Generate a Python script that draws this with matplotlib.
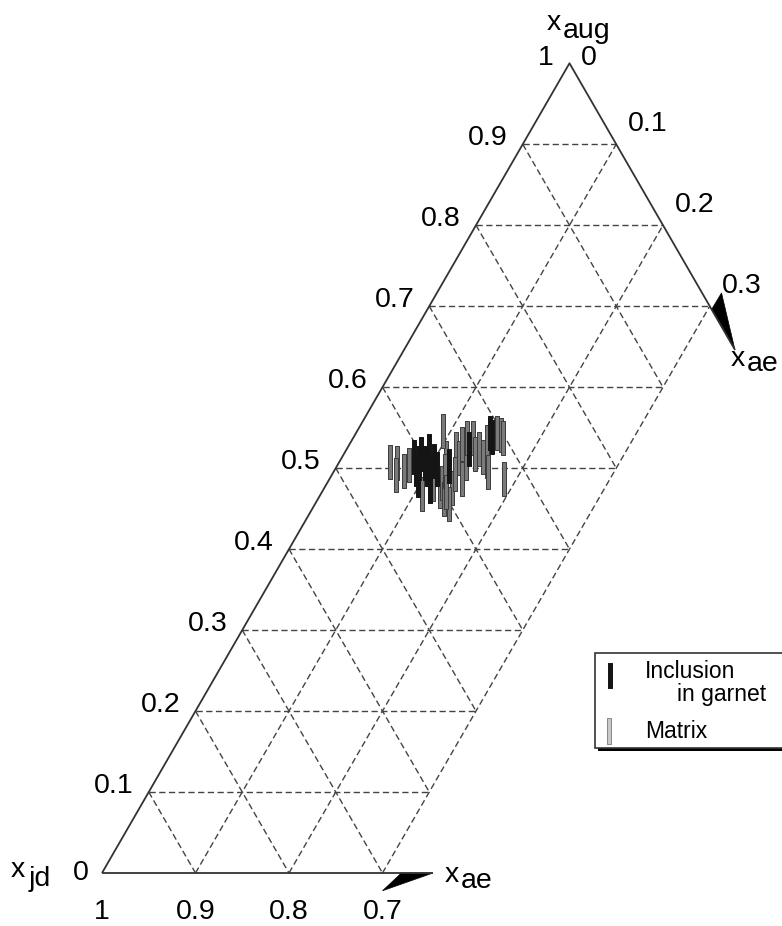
import numpy as np
import matplotlib.pyplot as plt
from matplotlib.path import Path
from matplotlib.patches import Polygon, Rectangle

# clinopyroxene compositions (mole fractions)
incl_ae = [0.086, 0.086, 0.092, 0.105, 0.101, 0.120, 0.131, 0.143, 0.148, 0.082,
           0.098, 0.109, 0.077, 0.095, 0.112, 0.089]
incl_aug = [0.499, 0.506, 0.506, 0.491, 0.509, 0.503, 0.524, 0.543, 0.539, 0.518,
            0.499, 0.499, 0.514, 0.485, 0.478, 0.521]

mat_ae = [0.054, 0.063, 0.075, 0.076, 0.125, 0.123, 0.112, 0.137, 0.117, 0.126,
          0.120, 0.136, 0.128, 0.140, 0.141, 0.150, 0.157, 0.151, 0.156, 0.187,
          0.092, 0.113, 0.131, 0.141, 0.122, 0.135, 0.143, 0.068, 0.118, 0.146,
          0.160, 0.133, 0.165, 0.108]
mat_aug = [0.507, 0.506, 0.497, 0.504, 0.472, 0.482, 0.512, 0.475, 0.524, 0.512,
           0.530, 0.506, 0.537, 0.518, 0.524, 0.514, 0.509, 0.543, 0.541, 0.486,
           0.546, 0.481, 0.493, 0.487, 0.537, 0.462, 0.456, 0.492, 0.497, 0.532,
           0.537, 0.470, 0.495, 0.468]

ticks = [0.1, 0.2, 0.3, 0.4, 0.5, 0.6, 0.7, 0.8, 0.9]
ae_max = 0.3

S3 = np.sqrt(3) / 2
PX = 935.0  # pixels per unit side


def tern(ae, aug):
    ae = np.asarray(ae, dtype=float)
    aug = np.asarray(aug, dtype=float)
    return ae + aug / 2, aug * S3


def px(v):
    return v / PX


plt.rcParams['font.family'] = ['Liberation Sans', 'DejaVu Sans']

fig = plt.figure(figsize=(7.82, 9.26), dpi=100)
ax = fig.add_axes([0, 0, 1, 1])
ax.set_xlim(-102 / PX, (782 - 102) / PX)
ax.set_ylim(-(926 - 873) / PX, 873 / PX)
ax.axis('off')

solid = dict(color='#333333', lw=1.3, solid_capstyle='butt')
dash = dict(color='#444444', lw=1.0, linestyle=(0, (4.5, 2.5)))

# dashed grid
for a in ticks:
    x, y = tern([0, min(ae_max, 1 - a)], [a, a])
    ax.plot(x, y, **dash)
for e in [0.1, 0.2, 0.3]:
    x, y = tern([e, e], [0, 1 - e])
    ax.plot(x, y, **dash)
for c in ticks:
    e_end = min(ae_max, 1 - c)
    x, y = tern([0, e_end], [1 - c, 1 - c - e_end])
    ax.plot(x, y, **dash)

# frame
x, y = tern([0, 0, ae_max], [0, 1, 1 - ae_max])
ax.plot(x, y, **solid)
x, y = tern([0, ae_max], [0, 0])
ax.plot(x, y, **solid)


# half arrow heads
def half_arrow(corner, d, n, back, out, notch_d, notch_n):
    corner = np.array(corner)
    d = np.array(d)
    n = np.array(n)
    tip = corner + 0.054 * d
    barb = corner - back * d + out * n
    notch = corner + notch_d * d + notch_n * n
    ax.plot(*zip(corner, tip), **solid)
    ax.add_patch(Polygon([tip, barb, notch, corner + (notch_d + 0.004) * d], closed=True,
                         fc='black', ec='black', lw=0.5))


bx, by = tern(ae_max, 0)
half_arrow((bx, by), (1, 0), (0, -1), 0.0, 0.019, 0.016, 0.004)
rx, ry = tern(ae_max, 1 - ae_max)
half_arrow((rx, ry), (0.5, -S3), (S3, 0.5), 0.006, 0.018, 0.004, 0.0)

# bar-shaped markers
bar = Path([(-0.05, -0.5), (0.05, -0.5), (0.05, 0.5), (-0.05, 0.5), (-0.05, -0.5)],
           [Path.MOVETO, Path.LINETO, Path.LINETO, Path.LINETO, Path.CLOSEPOLY])
mat_style = dict(marker=bar, markersize=24, mfc='#7a7a7a', mec='#3c3c3c', mew=0.7, linestyle='none')
inc_style = dict(marker=bar, markersize=24, mfc='#151515', mec='#151515', mew=0.7, linestyle='none')

x, y = tern(mat_ae, mat_aug)
ax.plot(x, y, **mat_style)
x, y = tern(incl_ae, incl_aug)
ax.plot(x, y, **inc_style)

fs = 20.5
# left edge labels (x_aug)
for a in ticks:
    x, y = tern(0, a)
    ax.text(x - px(15), y + px(6), f'{a:.1f}', ha='right', va='center', fontsize=fs)
# right edge labels (x_ae)
for e in [0.1, 0.2, ae_max]:
    x, y = tern(e, 1 - e)
    ax.text(x + px(12), y + px(20), f'{e:.1f}', ha='left', va='center', fontsize=fs)
# bottom labels (x_jd)
for e in [0.0, 0.1, 0.2, 0.3]:
    x, y = tern(e, 0)
    lab = '1' if e == 0 else f'{1 - e:.1f}'
    ax.text(x, y - px(39), lab, ha='center', va='center', fontsize=fs)

# apex
x, y = tern(0, 1)
ax.text(x - px(24), y + px(5), '1', ha='center', va='center', fontsize=fs)
ax.text(x + px(19), y + px(5), '0', ha='center', va='center', fontsize=fs)
ax.text(x - px(23), y + px(40), 'x', ha='left', va='center', fontsize=fs)
ax.text(x - px(7), y + px(32), 'aug', ha='left', va='center', fontsize=fs)

# bottom-left corner
x, y = tern(0, 0)
ax.text(x - px(21), y, '0', ha='center', va='center', fontsize=fs)
ax.text(x - px(91), y + px(3), 'x', ha='left', va='center', fontsize=fs)
ax.text(x - px(73), y - px(6), 'jd', ha='left', va='center', fontsize=fs)

# axis name at the arrows
ax.text(bx + px(62), by - px(2), 'x', ha='left', va='center', fontsize=fs)
ax.text(bx + px(78), by - px(8), 'ae', ha='left', va='center', fontsize=fs)
ax.text(rx + px(21), ry - px(53), 'x', ha='left', va='center', fontsize=fs)
ax.text(rx + px(37), ry - px(58), 'ae', ha='left', va='center', fontsize=fs)

# legend box
W, H = 782.0, 926.0
ax.add_patch(Rectangle((598 / W, 1 - 751 / H), 0.5, (751 - 656) / H, transform=ax.transAxes,
                       fc='black', ec='none', clip_on=False, zorder=5))
ax.add_patch(Rectangle((595 / W, 1 - 748 / H), 0.5, (748 - 653) / H, transform=ax.transAxes,
                       fc='white', ec='#333333', lw=1.2, clip_on=False, zorder=6))
wide_bar = Path(bar.vertices * [1.4, 1], bar.codes)
ax.plot([610 / W], [1 - 675 / H], transform=ax.transAxes, zorder=7,
        **dict(inc_style, markersize=18, marker=wide_bar))
ax.plot([609 / W], [1 - 731 / H], transform=ax.transAxes, zorder=7,
        **dict(mat_style, markersize=19, mfc='#c8c8c8', mec='#888888', marker=wide_bar))
lfs = 16.5
ax.text(645 / W, 1 - 672 / H, 'Inclusion', transform=ax.transAxes, ha='left', va='center',
        fontsize=lfs, zorder=8)
ax.text(677 / W, 1 - 695 / H, 'in garnet', transform=ax.transAxes, ha='left', va='center',
        fontsize=lfs, zorder=8)
ax.text(645 / W, 1 - 731 / H, 'Matrix', transform=ax.transAxes, ha='left', va='center',
        fontsize=lfs, zorder=8)

fig.savefig('out.png', dpi=100)
